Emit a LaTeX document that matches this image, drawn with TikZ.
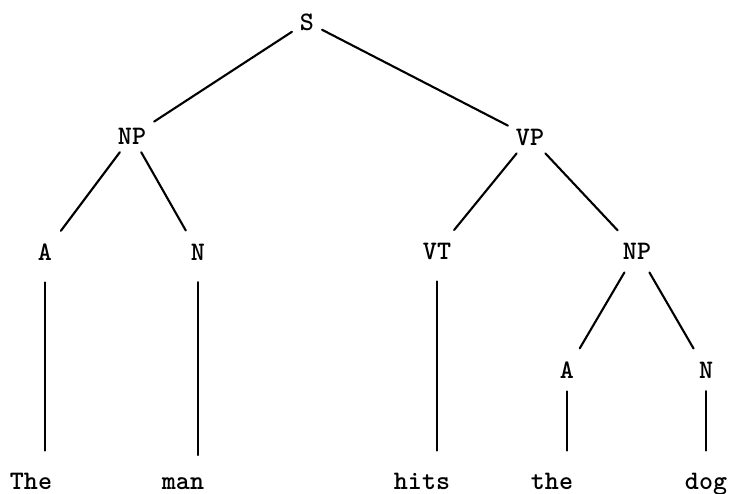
\documentclass[tikz,border=0pt]{standalone}
\begin{document}
\begin{tikzpicture}[font=\fontsize{19}{22}\selectfont\ttfamily\bfseries, line join=round, line cap=round, line width=1.5pt]
	\tikzset{cat/.style={inner sep=5pt}, word/.style={anchor=base, inner sep=0pt}}
	\useasboundingbox (0,0) rectangle (18.225,12.325);
	% categories
	\node[cat] (S) at (7.675,11.775) {S};
	\node[cat] (NPa) at (3.3,8.925) {NP};
	\node[cat] (VP) at (13.25,8.9) {VP};
	\node[cat] (Aa) at (1.125,6.025) {A};
	\node[cat] (Na) at (4.95,6.025) {N};
	\node[cat] (VT) at (10.925,6.05) {VT};
	\node[cat] (NPb) at (15.925,6.05) {NP};
	\node[cat] (Ab) at (14.175,3.075) {A};
	\node[cat] (Nb) at (17.65,3.075) {N};
	% words
	\node[word] (The) at (0.775,0.1) {The};
	\node[word] (man) at (4.575,0.1) {man};
	\node[word] (hits) at (10.55,0.1) {hits};
	\node[word] (the) at (13.8,0.1) {the};
	\node[word] (dog) at (17.65,0.1) {dog};
	\draw (S)--(NPa);
	\draw (S)--(VP);
	\draw[shorten >=0.15cm] (NPa)--(Aa);
	\draw[shorten >=0.15cm] (NPa)--(Na);
	\draw[shorten >=0.15cm] (VP)--(VT);
	\draw[shorten >=0.15cm] (VP)--(NPb);
	\draw[shorten <=0.15cm,shorten >=0.15cm] (NPb)--(Ab);
	\draw[shorten <=0.15cm,shorten >=0.15cm] (NPb)--(Nb);
	\foreach \c/\w in {Aa/The,Na/man,VT/hits}{
		\draw[shorten <=0.35cm,shorten >=0.525cm] (\c)--(\c|-\w.north);}
	\foreach \c/\w in {Ab/the,Nb/dog}{
		\draw[shorten <=0.125cm,shorten >=0.525cm] (\c)--(\c|-\w.north);}
\end{tikzpicture}
\end{document}
